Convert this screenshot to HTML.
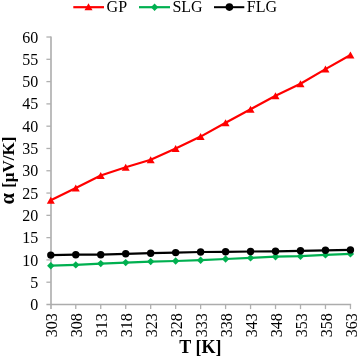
<!DOCTYPE html>
<html><head><meta charset="utf-8"><style>
html,body{margin:0;padding:0;background:#fff;width:357px;height:357px;overflow:hidden}
svg{display:block}
g.t{filter:grayscale(1)}
text{font-family:"Liberation Serif",serif;font-size:16px;fill:#000}
</style></head><body>
<svg width="357" height="357" viewBox="0 0 357 357">
<rect width="357" height="357" fill="#fff"/>
<line x1="51.0" y1="36.42" x2="51.0" y2="309.10" stroke="#acacac" stroke-width="1.6"/>
<line x1="46.40" y1="304.50" x2="351.14" y2="304.50" stroke="#acacac" stroke-width="1.4"/>
<line x1="46.40" y1="282.21" x2="51.00" y2="282.21" stroke="#b0b0b0" stroke-width="1.3"/>
<line x1="46.40" y1="259.92" x2="51.00" y2="259.92" stroke="#b0b0b0" stroke-width="1.3"/>
<line x1="46.40" y1="237.63" x2="51.00" y2="237.63" stroke="#b0b0b0" stroke-width="1.3"/>
<line x1="46.40" y1="215.34" x2="51.00" y2="215.34" stroke="#b0b0b0" stroke-width="1.3"/>
<line x1="46.40" y1="193.05" x2="51.00" y2="193.05" stroke="#b0b0b0" stroke-width="1.3"/>
<line x1="46.40" y1="170.76" x2="51.00" y2="170.76" stroke="#b0b0b0" stroke-width="1.3"/>
<line x1="46.40" y1="148.47" x2="51.00" y2="148.47" stroke="#b0b0b0" stroke-width="1.3"/>
<line x1="46.40" y1="126.18" x2="51.00" y2="126.18" stroke="#b0b0b0" stroke-width="1.3"/>
<line x1="46.40" y1="103.89" x2="51.00" y2="103.89" stroke="#b0b0b0" stroke-width="1.3"/>
<line x1="46.40" y1="81.60" x2="51.00" y2="81.60" stroke="#b0b0b0" stroke-width="1.3"/>
<line x1="46.40" y1="59.31" x2="51.00" y2="59.31" stroke="#b0b0b0" stroke-width="1.3"/>
<line x1="46.40" y1="37.02" x2="51.00" y2="37.02" stroke="#b0b0b0" stroke-width="1.3"/>
<line x1="75.77" y1="304.50" x2="75.77" y2="309.10" stroke="#b0b0b0" stroke-width="1.3"/>
<line x1="100.74" y1="304.50" x2="100.74" y2="309.10" stroke="#b0b0b0" stroke-width="1.3"/>
<line x1="125.71" y1="304.50" x2="125.71" y2="309.10" stroke="#b0b0b0" stroke-width="1.3"/>
<line x1="150.68" y1="304.50" x2="150.68" y2="309.10" stroke="#b0b0b0" stroke-width="1.3"/>
<line x1="175.65" y1="304.50" x2="175.65" y2="309.10" stroke="#b0b0b0" stroke-width="1.3"/>
<line x1="200.62" y1="304.50" x2="200.62" y2="309.10" stroke="#b0b0b0" stroke-width="1.3"/>
<line x1="225.59" y1="304.50" x2="225.59" y2="309.10" stroke="#b0b0b0" stroke-width="1.3"/>
<line x1="250.56" y1="304.50" x2="250.56" y2="309.10" stroke="#b0b0b0" stroke-width="1.3"/>
<line x1="275.53" y1="304.50" x2="275.53" y2="309.10" stroke="#b0b0b0" stroke-width="1.3"/>
<line x1="300.50" y1="304.50" x2="300.50" y2="309.10" stroke="#b0b0b0" stroke-width="1.3"/>
<line x1="325.47" y1="304.50" x2="325.47" y2="309.10" stroke="#b0b0b0" stroke-width="1.3"/>
<line x1="350.44" y1="304.50" x2="350.44" y2="309.10" stroke="#b0b0b0" stroke-width="1.3"/>
<polyline points="50.80,200.30 75.77,188.00 100.74,175.50 125.71,167.30 150.68,159.80 175.65,148.40 200.62,136.60 225.59,122.70 250.56,109.30 275.53,95.70 300.50,83.80 325.47,69.10 350.44,55.00" fill="none" stroke="#ff0000" stroke-width="2.2" stroke-linejoin="round"/>
<polygon points="46.80,203.80 54.80,203.80 50.80,196.80" fill="#ff0000"/>
<polygon points="71.77,191.50 79.77,191.50 75.77,184.50" fill="#ff0000"/>
<polygon points="96.74,179.00 104.74,179.00 100.74,172.00" fill="#ff0000"/>
<polygon points="121.71,170.80 129.71,170.80 125.71,163.80" fill="#ff0000"/>
<polygon points="146.68,163.30 154.68,163.30 150.68,156.30" fill="#ff0000"/>
<polygon points="171.65,151.90 179.65,151.90 175.65,144.90" fill="#ff0000"/>
<polygon points="196.62,140.10 204.62,140.10 200.62,133.10" fill="#ff0000"/>
<polygon points="221.59,126.20 229.59,126.20 225.59,119.20" fill="#ff0000"/>
<polygon points="246.56,112.80 254.56,112.80 250.56,105.80" fill="#ff0000"/>
<polygon points="271.53,99.20 279.53,99.20 275.53,92.20" fill="#ff0000"/>
<polygon points="296.50,87.30 304.50,87.30 300.50,80.30" fill="#ff0000"/>
<polygon points="321.47,72.60 329.47,72.60 325.47,65.60" fill="#ff0000"/>
<polygon points="346.44,58.50 354.44,58.50 350.44,51.50" fill="#ff0000"/>
<polyline points="50.80,265.70 75.77,264.90 100.74,263.60 125.71,262.60 150.68,261.60 175.65,261.00 200.62,260.20 225.59,259.00 250.56,257.90 275.53,256.70 300.50,256.20 325.47,254.90 350.44,253.90" fill="none" stroke="#00b050" stroke-width="2.2" stroke-linejoin="round"/>
<polygon points="50.80,262.00 54.50,265.70 50.80,269.40 47.10,265.70" fill="#00b050"/>
<polygon points="75.77,261.20 79.47,264.90 75.77,268.60 72.07,264.90" fill="#00b050"/>
<polygon points="100.74,259.90 104.44,263.60 100.74,267.30 97.04,263.60" fill="#00b050"/>
<polygon points="125.71,258.90 129.41,262.60 125.71,266.30 122.01,262.60" fill="#00b050"/>
<polygon points="150.68,257.90 154.38,261.60 150.68,265.30 146.98,261.60" fill="#00b050"/>
<polygon points="175.65,257.30 179.35,261.00 175.65,264.70 171.95,261.00" fill="#00b050"/>
<polygon points="200.62,256.50 204.32,260.20 200.62,263.90 196.92,260.20" fill="#00b050"/>
<polygon points="225.59,255.30 229.29,259.00 225.59,262.70 221.89,259.00" fill="#00b050"/>
<polygon points="250.56,254.20 254.26,257.90 250.56,261.60 246.86,257.90" fill="#00b050"/>
<polygon points="275.53,253.00 279.23,256.70 275.53,260.40 271.83,256.70" fill="#00b050"/>
<polygon points="300.50,252.50 304.20,256.20 300.50,259.90 296.80,256.20" fill="#00b050"/>
<polygon points="325.47,251.20 329.17,254.90 325.47,258.60 321.77,254.90" fill="#00b050"/>
<polygon points="350.44,250.20 354.14,253.90 350.44,257.60 346.74,253.90" fill="#00b050"/>
<polyline points="50.80,255.10 75.77,254.70 100.74,254.70 125.71,253.80 150.68,253.20 175.65,252.60 200.62,252.00 225.59,251.80 250.56,251.50 275.53,251.30 300.50,250.80 325.47,250.30 350.44,249.90" fill="none" stroke="#000000" stroke-width="2.2" stroke-linejoin="round"/>
<circle cx="50.80" cy="255.10" r="3.7" fill="#000000"/>
<circle cx="75.77" cy="254.70" r="3.7" fill="#000000"/>
<circle cx="100.74" cy="254.70" r="3.7" fill="#000000"/>
<circle cx="125.71" cy="253.80" r="3.7" fill="#000000"/>
<circle cx="150.68" cy="253.20" r="3.7" fill="#000000"/>
<circle cx="175.65" cy="252.60" r="3.7" fill="#000000"/>
<circle cx="200.62" cy="252.00" r="3.7" fill="#000000"/>
<circle cx="225.59" cy="251.80" r="3.7" fill="#000000"/>
<circle cx="250.56" cy="251.50" r="3.7" fill="#000000"/>
<circle cx="275.53" cy="251.30" r="3.7" fill="#000000"/>
<circle cx="300.50" cy="250.80" r="3.7" fill="#000000"/>
<circle cx="325.47" cy="250.30" r="3.7" fill="#000000"/>
<circle cx="350.44" cy="249.90" r="3.7" fill="#000000"/>
<line x1="73.3" y1="7.2" x2="104" y2="7.2" stroke="#ff0000" stroke-width="2.2"/>
<polygon points="84.50,10.30 92.50,10.30 88.50,3.30" fill="#ff0000"/>
<line x1="139" y1="7.2" x2="170" y2="7.2" stroke="#00b050" stroke-width="2.2"/>
<polygon points="154.60,3.50 158.30,7.20 154.60,10.90 150.90,7.20" fill="#00b050"/>
<line x1="214" y1="7.2" x2="244.3" y2="7.2" stroke="#000000" stroke-width="2.0"/>
<circle cx="229.40" cy="7.10" r="3.8" fill="#000000"/>
<g class="t">
<text x="38.2" y="310.10" text-anchor="end">0</text>
<text x="38.2" y="287.81" text-anchor="end">5</text>
<text x="38.2" y="265.52" text-anchor="end">10</text>
<text x="38.2" y="243.23" text-anchor="end">15</text>
<text x="38.2" y="220.94" text-anchor="end">20</text>
<text x="38.2" y="198.65" text-anchor="end">25</text>
<text x="38.2" y="176.36" text-anchor="end">30</text>
<text x="38.2" y="154.07" text-anchor="end">35</text>
<text x="38.2" y="131.78" text-anchor="end">40</text>
<text x="38.2" y="109.49" text-anchor="end">45</text>
<text x="38.2" y="87.20" text-anchor="end">50</text>
<text x="38.2" y="64.91" text-anchor="end">55</text>
<text x="38.2" y="42.62" text-anchor="end">60</text>
<text transform="translate(57.30,337.3) rotate(-90)">303</text>
<text transform="translate(82.27,337.3) rotate(-90)">308</text>
<text transform="translate(107.24,337.3) rotate(-90)">313</text>
<text transform="translate(132.21,337.3) rotate(-90)">318</text>
<text transform="translate(157.18,337.3) rotate(-90)">323</text>
<text transform="translate(182.15,337.3) rotate(-90)">328</text>
<text transform="translate(207.12,337.3) rotate(-90)">333</text>
<text transform="translate(232.09,337.3) rotate(-90)">338</text>
<text transform="translate(257.06,337.3) rotate(-90)">343</text>
<text transform="translate(282.03,337.3) rotate(-90)">348</text>
<text transform="translate(307.00,337.3) rotate(-90)">353</text>
<text transform="translate(331.97,337.3) rotate(-90)">358</text>
<text transform="translate(356.94,337.3) rotate(-90)">363</text>
<text style="font-weight:bold;font-size:17px" transform="translate(14.0,204.5) rotate(-90)"><tspan style="font-size:20.5px">α</tspan><tspan dx="1.0"> [μV/K]</tspan></text>
<text style="font-weight:bold;font-size:18px" x="200.4" y="352.6" text-anchor="middle">T [K]</text>
<text x="106.6" y="12.2">GP</text>
<text x="172.4" y="12.2">SLG</text>
<text x="246.8" y="12.2">FLG</text>
</g>
</svg>
</body></html>
